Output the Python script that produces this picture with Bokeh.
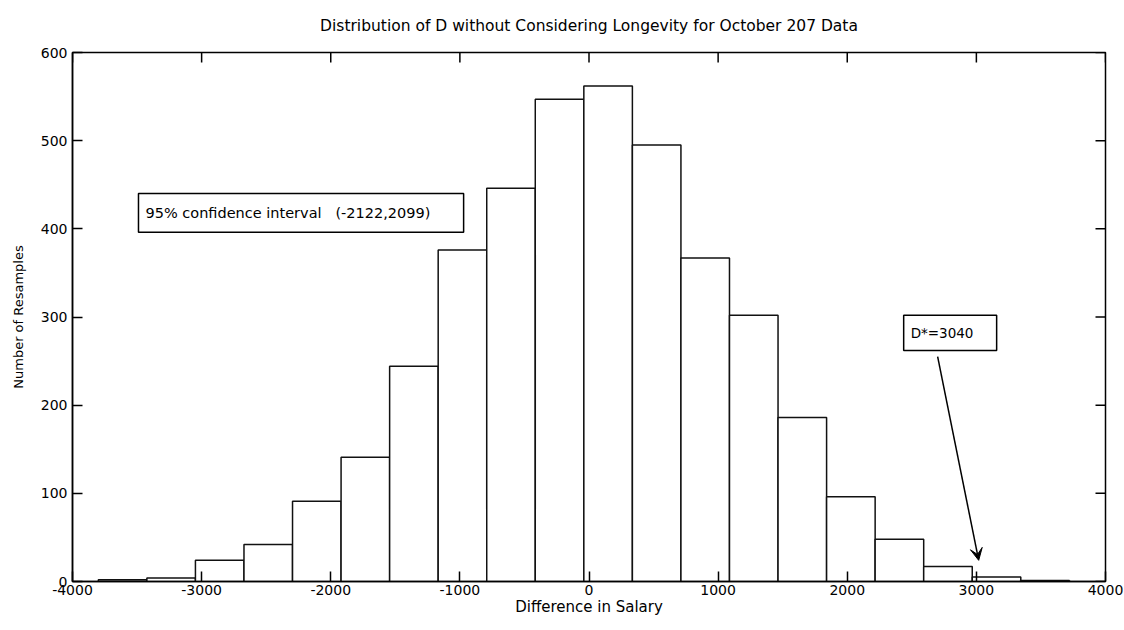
import numpy as np
from bokeh.plotting import figure
from bokeh.models import Range1d, Label, BoxAnnotation, Arrow, VeeHead, ColumnDataSource
from bokeh.embed import file_html
from bokeh.resources import INLINE

# ---- data ----
bin_lo = -3800
bin_hi = 3720
counts = [2, 4, 24, 42, 91, 141, 244, 376, 446, 547, 562, 495, 367, 302, 186, 96, 48, 17, 5, 1]
x_ticks = [-4000, -3000, -2000, -1000, 0, 1000, 2000, 3000, 4000]
y_ticks = [0, 100, 200, 300, 400, 500, 600]
title_text = "Distribution of D without Considering Longevity for October 207 Data"
x_label = "Difference in Salary"
y_label = "Number of Resamples"
ci_text = "95% confidence interval\u00a0\u00a0\u00a0(-2122,2099)"
ci_box = dict(left=-3489, right=-971, bottom=396, top=440)
ci_pos = (-3435, 418)
d_text = "D*=3040"
d_box = dict(left=2437, right=3157, bottom=262, top=302)
d_pos = (2491, 282)
arrow_from = (2700, 255)
arrow_to = (3018, 24)

edges = np.linspace(bin_lo, bin_hi, len(counts) + 1)
src = ColumnDataSource(dict(left=edges[:-1], right=edges[1:], top=counts, bottom=[0] * len(counts)))

FONT = "DejaVu Sans"
W, H = 1124, 630
BL, BR, BT, BB = 72, 19, 52, 49
X0, X1, Y0, Y1 = -4000, 4000, 0, 600
TICK = 10  # px

p = figure(width=W, height=H, output_backend="svg", toolbar_location=None,
           x_range=Range1d(X0, X1), y_range=Range1d(Y0, Y1),
           min_border_left=BL, min_border_right=BR, min_border_top=BT, min_border_bottom=BB,
           title=title_text)
p.title.align = "center"
p.title.vertical_align = "top"
p.title.text_font = FONT
p.title.text_font_style = "normal"
p.title.text_font_size = "15.5px"
p.title.text_color = "black"
p.title.standoff = 31

p.xgrid.visible = False
p.ygrid.visible = False
p.outline_line_color = "black"
p.outline_line_width = 1.5
p.background_fill_color = "white"
p.border_fill_color = "white"

p.quad(left="left", right="right", top="top", bottom="bottom", source=src,
       fill_color="white", line_color="#111111", line_width=1.5)

for ax, ticks in ((p.xaxis[0], x_ticks), (p.yaxis[0], y_ticks)):
    ax.ticker = ticks
    ax.major_tick_in = TICK
    ax.major_tick_out = 0
    ax.minor_tick_in = 0
    ax.minor_tick_out = 0
    ax.axis_line_color = "black"
    ax.axis_line_width = 1.5
    ax.major_tick_line_color = "black"
    ax.major_tick_line_width = 1.5
    ax.major_label_text_font = FONT
    ax.major_label_text_font_size = "14px"
    ax.major_label_text_color = "black"
    ax.axis_label_text_font = FONT
    ax.axis_label_text_font_style = "normal"
    ax.axis_label_text_color = "black"
    ax.major_label_overrides = {t: str(t) for t in ticks}

xa = p.xaxis[0]
ya = p.yaxis[0]
xa.axis_label = x_label
ya.axis_label = y_label
xa.axis_label_text_font_size = "15px"
ya.axis_label_text_font_size = "13px"
xa.major_label_standoff = 3
xa.axis_label_standoff = 0
ya.major_label_standoff = 5
ya.axis_label_standoff = 12

# inward ticks on the top and right edges of the box
fw = W - BL - BR
fh = H - BT - BB
dx = TICK * (X1 - X0) / fw
dy = TICK * (Y1 - Y0) / fh
p.segment(x0=x_ticks, x1=x_ticks, y0=[Y1] * len(x_ticks), y1=[Y1 - dy] * len(x_ticks),
          line_color="black", line_width=1.5)
p.segment(x0=[X1] * len(y_ticks), x1=[X1 - dx] * len(y_ticks), y0=y_ticks, y1=y_ticks,
          line_color="black", line_width=1.5)

# annotation boxes
for b in (ci_box, d_box):
    p.add_layout(BoxAnnotation(left=b["left"], right=b["right"], bottom=b["bottom"], top=b["top"],
                               fill_color="white", fill_alpha=1.0, line_color="black",
                               line_alpha=1.0, line_width=1.5))
p.add_layout(Label(x=ci_pos[0], y=ci_pos[1], text=ci_text, text_font=FONT, text_font_size="14.5px",
                   text_baseline="middle", text_color="black"))
p.add_layout(Label(x=d_pos[0], y=d_pos[1], text=d_text, text_font=FONT, text_font_size="13.5px",
                   text_baseline="middle", text_color="black"))
p.add_layout(Arrow(x_start=arrow_from[0], y_start=arrow_from[1], x_end=arrow_to[0], y_end=arrow_to[1],
                   line_color="black", line_width=1.5,
                   end=VeeHead(size=12, fill_color="black", line_color="black")))

open("out.html", "w").write(file_html(p, INLINE))
